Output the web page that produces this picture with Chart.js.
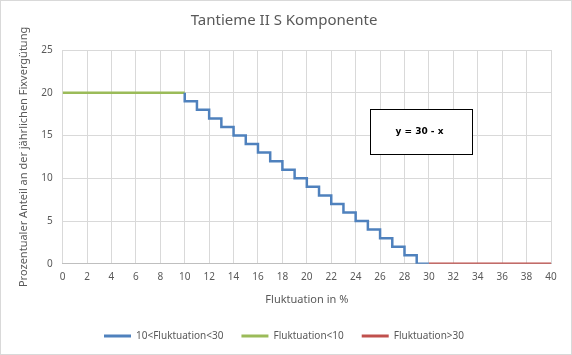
<!DOCTYPE html>
<html>
<head>
<meta charset="utf-8">
<script src="https://cdn.jsdelivr.net/npm/chart.js@4"></script>
<style>
html,body{margin:0;padding:0;background:#fff;}
#wrap{width:572px;height:355px;position:relative;}
</style>
</head>
<body>
<div id="wrap"><canvas id="c" width="572" height="355"></canvas></div>
<script>
const chartTitle = "Tantieme II S Komponente";
const xTitle = "Fluktuation in %";
const yTitle = "Prozentualer Anteil an der jährlichen Fixvergütung";
const seriesNames = ["10<Fluktuation<30", "Fluktuation<10", "Fluktuation>30"];
const midX = [10, 10, 11, 12, 13, 14, 15, 16, 17, 18, 19, 20, 21, 22, 23, 24, 25, 26, 27, 28, 29, 30];
const midY = [20, 19, 18, 17, 16, 15, 14, 13, 12, 11, 10, 9, 8, 7, 6, 5, 4, 3, 2, 1, 0, 0];
const lowX = [0, 10];
const lowY = [20, 20];
const highX = [30, 40];
const highY = [0, 0];
const formulaText = "y = 30 - x";

const FONT = "'Noto Sans', 'Open Sans', sans-serif";
const toPts = (xs, ys) => xs.map((x, i) => ({x: x, y: ys[i]}));

const frame = {
  id: 'frame',
  afterDraw(chart) {
    const ctx = chart.ctx;
    ctx.save();
    ctx.strokeStyle = '#d9d9d9';
    ctx.lineWidth = 1;
    ctx.strokeRect(0.5, 0.5, chart.width - 1, chart.height - 1);
    ctx.restore();
  }
};

const formulaBox = {
  id: 'formulaBox',
  afterDatasetsDraw(chart) {
    const xs = chart.scales.x, ys = chart.scales.y;
    const l = Math.round(xs.getPixelForValue(25.2)) + 0.5;
    const r = Math.round(xs.getPixelForValue(33.55)) + 0.5;
    const t = Math.round(ys.getPixelForValue(18.1)) + 0.5;
    const b = Math.round(ys.getPixelForValue(12.85)) + 0.5;
    const ctx = chart.ctx;
    ctx.save();
    ctx.fillStyle = '#fff';
    ctx.fillRect(l, t, r - l, b - t);
    ctx.strokeStyle = '#000';
    ctx.lineWidth = 1;
    ctx.strokeRect(l, t, r - l, b - t);
    ctx.fillStyle = '#000';
    ctx.font = "bold 9px 'DejaVu Sans', sans-serif";
    ctx.textAlign = 'center';
    ctx.textBaseline = 'middle';
    ctx.fillText(formulaText, (l + r) / 2 - 2, (t + b) / 2);
    ctx.restore();
  }
};

new Chart(document.getElementById('c'), {
  type: 'line',
  data: {
    datasets: [
      {label: seriesNames[0], data: toPts(midX, midY), borderColor: '#4F81BD', backgroundColor: '#4F81BD', borderWidth: 2.5, pointRadius: 0, stepped: true, fill: false},
      {label: seriesNames[1], data: toPts(lowX, lowY), borderColor: '#9BBB59', backgroundColor: '#9BBB59', borderWidth: 2.5, pointRadius: 0, fill: false},
      {label: seriesNames[2], data: toPts(highX, highY), borderColor: '#C0504D', backgroundColor: '#C0504D', borderWidth: 2.5, pointRadius: 0, fill: false}
    ]
  },
  options: {
    responsive: false,
    animation: false,
    devicePixelRatio: 1,
    layout: {padding: {left: 17, right: 21, top: 0, bottom: 4}},
    plugins: {
      title: {display: true, text: chartTitle, color: '#595959', font: {family: FONT, size: 15, weight: 'normal'}, padding: {top: 12, bottom: 20}},
      legend: {
        position: 'bottom',
        labels: {
          color: '#595959', font: {family: FONT, size: 10}, boxWidth: 27, boxHeight: 3, padding: 18,
          generateLabels(chart) {
            return chart.data.datasets.map((ds, i) => ({
              text: ds.label, fillStyle: ds.borderColor, strokeStyle: ds.borderColor,
              lineWidth: 0, fontColor: '#595959', hidden: false, datasetIndex: i
            }));
          }
        }
      },
      tooltip: {enabled: false}
    },
    scales: {
      x: {
        type: 'linear', min: 0, max: 40,
        ticks: {stepSize: 2, color: '#595959', font: {family: FONT, size: 10}, padding: 7},
        grid: {color: '#d9d9d9', drawTicks: false},
        border: {color: '#bfbfbf'},
        title: {display: true, text: xTitle, color: '#595959', font: {family: FONT, size: 11}, padding: {top: 3, bottom: 7}}
      },
      y: {
        min: 0, max: 25,
        ticks: {stepSize: 5, color: '#595959', font: {family: FONT, size: 10}, padding: 10},
        grid: {color: '#d9d9d9', drawTicks: false},
        border: {display: false},
        title: {display: true, text: yTitle, color: '#595959', font: {family: FONT, size: 11}, padding: {top: 0, bottom: 1}}
      }
    }
  },
  plugins: [formulaBox, frame]
});
</script>
</body>
</html>
